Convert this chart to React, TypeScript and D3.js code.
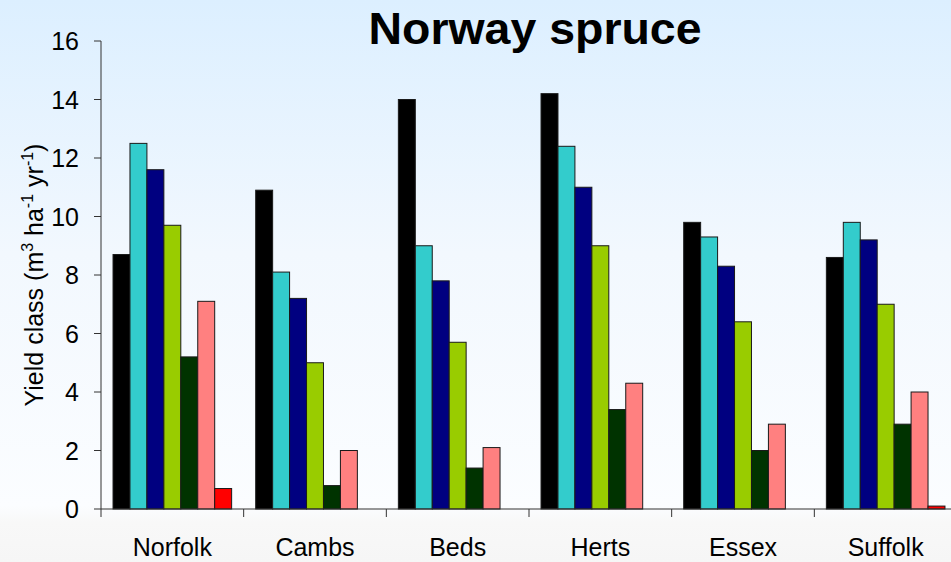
import React from "react";
import * as d3 from "d3";

const categories = ["Norfolk", "Cambs", "Beds", "Herts", "Essex", "Suffolk"];
const seriesColors = ["#000000", "#33CCCC", "#000080", "#99CC00", "#003300", "#FF8080", "#FF0000"];
// values per series (index = series), per category; null = no bar
const s1 = [8.7, 10.9, 14.0, 14.2, 9.8, 8.6];
const s2 = [12.5, 8.1, 9.0, 12.4, 9.3, 9.8];
const s3 = [11.6, 7.2, 7.8, 11.0, 8.3, 9.2];
const s4 = [9.7, 5.0, 5.7, 9.0, 6.4, 7.0];
const s5 = [5.2, 0.8, 1.4, 3.4, 2.0, 2.9];
const s6 = [7.1, 2.0, 2.1, 4.3, 2.9, 4.0];
const s7: (number | null)[] = [0.7, null, null, null, null, 0.1];
const series = [s1, s2, s3, s4, s5, s6, s7];
const yTicks = [0, 2, 4, 6, 8, 10, 12, 14, 16];

const W = 951, H = 562;
const x0 = 101, x1 = 957, yTop = 41, yBot = 509;

export default function App() {
  const x = d3.scaleBand<string>().domain(categories).range([x0, x1]).paddingInner(0).paddingOuter(0);
  const inner = d3
    .scaleBand<number>()
    .domain(series.map((_, i) => i))
    .range([0, x.bandwidth()])
    .paddingOuter(0.71)
    .paddingInner(0);
  const y = d3.scaleLinear().domain([0, 16]).range([yBot, yTop]);
  const font = "Arial, 'Liberation Sans', sans-serif";

  return (
    <svg width={W} height={H} style={{ position: "absolute", left: 0, top: 0 }}>
      <defs>
        <linearGradient id="bg" x1="0" y1="0" x2="0" y2="1">
          <stop offset="0" stopColor="#dcefff" />
          <stop offset="0.45" stopColor="#f2f8fe" />
          <stop offset="0.9" stopColor="#fbfdff" />
          <stop offset="0.93" stopColor="#f8f8f8" />
          <stop offset="1" stopColor="#f6f6f6" />
        </linearGradient>
      </defs>
      <rect x={0} y={0} width={W} height={H} fill="url(#bg)" />
      <text
        x={535}
        y={44}
        textAnchor="middle"
        fontFamily={font}
        fontWeight="bold"
        fontSize={44}
        textLength={333}
        lengthAdjust="spacingAndGlyphs"
      >
        Norway spruce
      </text>
      {/* bars */}
      {categories.map((c, ci) => (
        <g key={c} transform={`translate(${x(c)},0)`}>
          {series.map((s, si) => {
            const v = s[ci];
            if (v == null) return null;
            return (
              <rect
                key={si}
                x={inner(si)}
                y={y(v)}
                width={inner.bandwidth()}
                height={yBot - y(v)}
                fill={seriesColors[si]}
                stroke="#1a1a1a"
                strokeWidth={1}
              />
            );
          })}
        </g>
      ))}
      {/* y axis */}
      <line x1={x0} x2={x0} y1={yTop} y2={yBot} stroke="#333" strokeWidth={1} />
      {yTicks.map((t) => (
        <g key={t}>
          <line x1={x0 - 7} x2={x0} y1={y(t)} y2={y(t)} stroke="#333" />
          <text
            x={79}
            y={y(t)}
            dy="0.36em"
            textAnchor="end"
            fontFamily={font}
            fontSize={25}
            fill="#000"
          >
            {t}
          </text>
        </g>
      ))}
      {/* x axis */}
      <line x1={x0} x2={x1} y1={yBot} y2={yBot} stroke="#333" strokeWidth={1} />
      {categories.map((c) => (
        <line key={c} x1={x(c)} x2={x(c)} y1={yBot} y2={yBot + 8} stroke="#333" />
      ))}
      {categories.map((c) => (
        <text
          key={c}
          x={(x(c) as number) + x.bandwidth() / 2}
          y={556}
          textAnchor="middle"
          fontFamily={font}
          fontSize={25}
          fill="#000"
        >
          {c}
        </text>
      ))}
      {/* y axis label */}
      <text
        transform={`translate(43,${(yTop + yBot) / 2}) rotate(-90)`}
        textAnchor="middle"
        fontFamily={font}
        fontSize={25}
        fill="#000"
      >
        Yield class (m
        <tspan dy={-10} fontSize={16}>3</tspan>
        <tspan dy={10}> ha</tspan>
        <tspan dy={-10} fontSize={16}>-1</tspan>
        <tspan dy={10}> yr</tspan>
        <tspan dy={-10} fontSize={16}>-1</tspan>
        <tspan dy={10}>)</tspan>
      </text>
    </svg>
  );
}
